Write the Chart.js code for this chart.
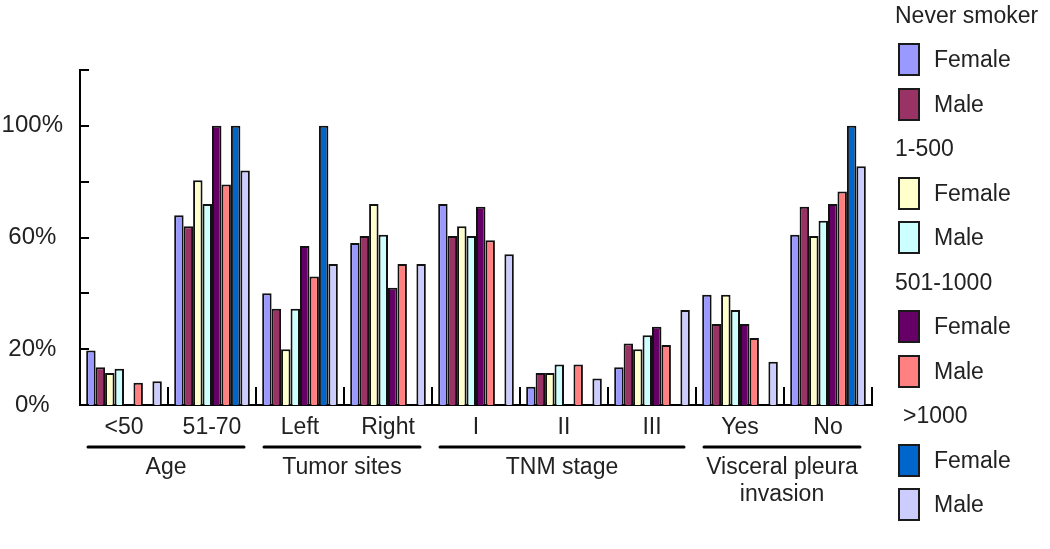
<!DOCTYPE html>
<html>
<head>
<meta charset="utf-8">
<script src="https://cdn.jsdelivr.net/npm/chart.js@4.4.1/dist/chart.umd.min.js"></script>
<style>
  body { margin: 0; background: #fff; }
  #wrap { position: relative; width: 1050px; height: 549px; font-family: "Liberation Sans", Arial, sans-serif; color: #222; }
  #wrap canvas { position: absolute; left: 0; top: 0; }
  .lg-text { position: absolute; font-size: 23px; line-height: 23px; white-space: nowrap; }
  .lg-box { position: absolute; width: 22px; height: 33px; box-sizing: border-box; border: 2px solid #1a1a1a; }
</style>
</head>
<body>
<div id="wrap">
  <canvas id="myChart" width="1050" height="549"></canvas>
  <div id="legend"></div>
</div>
<script>
// categories along the x axis
const categories = ["<50", "51-70", "Left", "Right", "I", "II", "III", "Yes", "No"];
const groupNames = ["Age", "Tumor sites", "TNM stage", ["Visceral pleura", "invasion"]];
const groupSizes = [2, 2, 3, 2];

// smoking groups and sexes (legend)
const smokeGroups = ["Never smoker", "1-500", "501-1000", ">1000"];
const sexes = ["Female", "Male"];

// percentages
const neverFemale = [19.5, 68, 40, 58, 72, 6.5, 13.5, 39.5, 61];
const neverMale   = [13.5, 64, 34.5, 60.5, 60.5, 11.5, 22, 29, 71];
const lowFemale   = [11.5, 80.5, 20, 72, 64, 11.5, 20, 39.5, 60.5];
const lowMale     = [13, 72, 34.5, 61, 60.5, 14.5, 25, 34, 66];
const midFemale   = [0, 100, 57, 42, 71, 0, 28, 29, 72];
const midMale     = [8, 79, 46, 50.5, 59, 14.5, 21.5, 24, 76.5];
const highFemale  = [0, 100, 100, 0, 0, 0, 0, 0, 100];
const highMale    = [8.5, 84, 50.5, 50.5, 54, 9.5, 34, 15.5, 85.5];

const yLabels = [0, 20, 60, 100];

const seriesValues = [neverFemale, neverMale, lowFemale, lowMale, midFemale, midMale, highFemale, highMale];
const colors = ["#9999ff", "#993366", "#ffffcc", "#ccffff", "#660066", "#ff8080", "#0066cc", "#ccccff"];

const datasets = seriesValues.map((vals, i) => ({
    label: smokeGroups[Math.floor(i / 2)] + " " + sexes[i % 2],
    data: vals,
    backgroundColor: colors[i],
    borderColor: "#111",
    borderWidth: 2,
    borderSkipped: "bottom",
    categoryPercentage: 0.86,
    barPercentage: 1.0
}));

// inward tick marks, category separators and group labels under the axis
const extras = {
    id: "extras",
    afterDraw(chart) {
        const { ctx, chartArea, scales: { x, y } } = chart;
        const step = x.getPixelForValue(1) - x.getPixelForValue(0);
        ctx.save();
        ctx.strokeStyle = "#000";
        ctx.lineWidth = 2;

        y.ticks.forEach(t => {
            const py = Math.round(y.getPixelForValue(t.value));
            ctx.beginPath();
            ctx.moveTo(chartArea.left, py);
            ctx.lineTo(chartArea.left + 9, py);
            ctx.stroke();
        });

        for (let i = 0; i < categories.length; i++) {
            const px = Math.round(x.getPixelForValue(i) + step / 2);
            ctx.beginPath();
            ctx.moveTo(px, chartArea.bottom);
            ctx.lineTo(px, chartArea.bottom - 18);
            ctx.stroke();
        }

        ctx.lineWidth = 3;
        ctx.lineCap = "round";
        ctx.fillStyle = "#222";
        ctx.font = '23px "Liberation Sans", Arial, sans-serif';
        ctx.textAlign = "center";
        ctx.textBaseline = "middle";
        let start = 0;
        groupSizes.forEach((n, g) => {
            const left = x.getPixelForValue(start) - step / 2 + 8;
            const right = x.getPixelForValue(start + n - 1) + step / 2 - 12;
            const ly = chartArea.bottom + 42;
            ctx.beginPath();
            ctx.moveTo(left, ly);
            ctx.lineTo(right, ly);
            ctx.stroke();
            const lines = [].concat(groupNames[g]);
            lines.forEach((txt, k) => {
                ctx.fillText(txt, (left + right) / 2, chartArea.bottom + 63 + k * 27);
            });
            start += n;
        });
        ctx.restore();
    }
};

const ctx = document.getElementById("myChart").getContext("2d");
new Chart(ctx, {
    type: "bar",
    data: { labels: categories, datasets: datasets },
    options: {
        responsive: false,
        animation: false,
        layout: { padding: { left: 0, right: 178, top: 70, bottom: 0 } },
        plugins: {
            legend: { display: false },
            tooltip: { enabled: false }
        },
        scales: {
            x: {
                grid: { display: false, drawTicks: false },
                border: { display: true, color: "#000", width: 2 },
                ticks: {
                    color: "#222",
                    font: { family: '"Liberation Sans", Arial, sans-serif', size: 23 },
                    padding: 9,
                    maxRotation: 0,
                    autoSkip: false
                },
                afterFit(scale) { scale.height = 144; }
            },
            y: {
                min: 0,
                max: 120,
                grid: { display: false, drawTicks: false },
                border: { display: true, color: "#000", width: 2 },
                ticks: {
                    stepSize: 20,
                    color: "#222",
                    crossAlign: "center",
                    padding: 17,
                    font: { family: '"Liberation Sans", Arial, sans-serif', size: 24 },
                    callback: v => yLabels.includes(v) ? v + "%" : ""
                },
                afterFit(scale) { scale.width = 80; }
            }
        }
    },
    plugins: [extras]
});

// legend on the right, with a heading for each smoking group
const legend = document.getElementById("legend");
let row = 0;
smokeGroups.forEach((grp, g) => {
    const head = document.createElement("div");
    head.className = "lg-text";
    head.textContent = grp;
    head.style.left = (g === 3 ? 903 : 895) + "px";
    head.style.top = (15 + row * 44.5 - 11.5) + "px";
    legend.appendChild(head);
    row++;
    sexes.forEach((sex, s) => {
        const cy = 15 + row * 44.5;
        const box = document.createElement("div");
        box.className = "lg-box";
        box.style.left = "898px";
        box.style.top = (cy - 16.5) + "px";
        box.style.background = colors[g * 2 + s];
        legend.appendChild(box);
        const txt = document.createElement("div");
        txt.className = "lg-text";
        txt.textContent = sex;
        txt.style.left = "934px";
        txt.style.top = (cy - 11.5) + "px";
        legend.appendChild(txt);
        row++;
    });
});
</script>
</body>
</html>
